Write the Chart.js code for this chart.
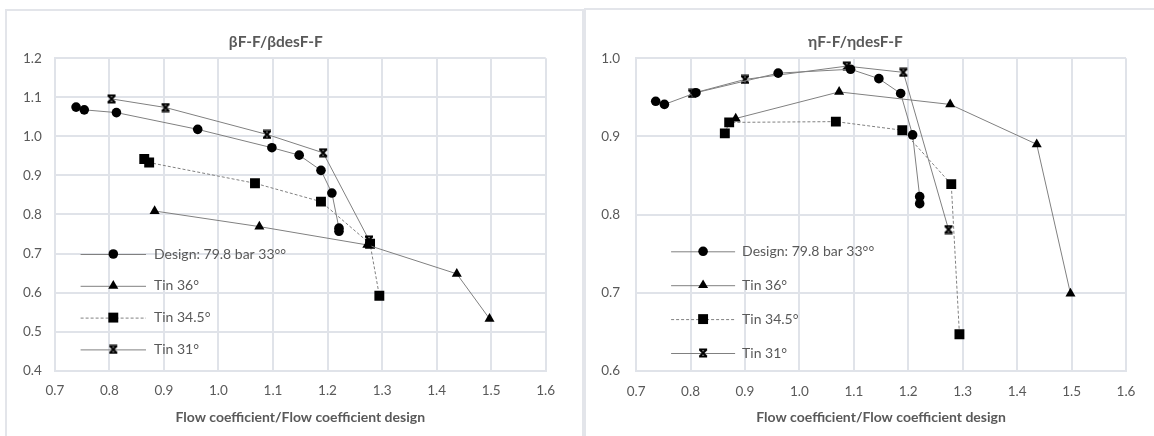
<!DOCTYPE html>
<html>
<head>
<meta charset="utf-8">
<script src="https://cdn.jsdelivr.net/npm/chart.js@4"></script>
<style>
  html, body { margin: 0; padding: 0; background: #fff; overflow: hidden; width: 1154px; height: 436px; }
  .panel { position: absolute; box-sizing: border-box; border: 2px solid #e3e5ea; height: 460px; }
  canvas { position: absolute; top: 0; }
</style>
</head>
<body>
<div class="panel" style="left:5px; top:9px; width:579px;"></div>
<div class="panel" style="left:584px; top:8px; width:620px;"></div>
<canvas id="betaChart" width="576" height="436" style="left:6px"></canvas>
<canvas id="etaChart" width="595" height="436" style="left:585px"></canvas>
<script>
// ---- data ----
const seriesLabels = ["Design: 79.8 bar 33\u00b0\u00b0", "Tin 36\u00b0", "Tin 34.5\u00b0", "Tin 31\u00b0"];

// beta (left chart)
const betaDesignX = [0.739, 0.754, 0.813, 0.962, 1.098, 1.148, 1.188, 1.208, 1.221, 1.221];
const betaDesignY = [1.075, 1.068, 1.061, 1.018, 0.971, 0.952, 0.913, 0.855, 0.765, 0.757];
const beta36X = [0.883, 1.075, 1.273, 1.437, 1.497];
const beta36Y = [0.809, 0.769, 0.722, 0.648, 0.533];
const beta345X = [0.864, 0.873, 1.067, 1.188, 1.278, 1.295];
const beta345Y = [0.942, 0.933, 0.880, 0.833, 0.725, 0.592];
const beta31X = [0.804, 0.903, 1.089, 1.192, 1.276];
const beta31Y = [1.096, 1.074, 1.005, 0.958, 0.735];

// eta (right chart)
const etaDesignX = [0.736, 0.752, 0.810, 0.961, 1.094, 1.146, 1.186, 1.208, 1.221, 1.221];
const etaDesignY = [0.945, 0.941, 0.956, 0.981, 0.986, 0.974, 0.955, 0.902, 0.823, 0.814];
const eta36X = [0.883, 1.073, 1.277, 1.436, 1.498];
const eta36Y = [0.923, 0.957, 0.941, 0.890, 0.699];
const eta345X = [0.863, 0.871, 1.067, 1.189, 1.279, 1.294];
const eta345Y = [0.904, 0.918, 0.919, 0.908, 0.839, 0.647];
const eta31X = [0.803, 0.900, 1.087, 1.191, 1.274];
const eta31Y = [0.955, 0.973, 0.990, 0.982, 0.781];

const TEXT = "#595959";
const GRID = "#e0e3e9";
Chart.defaults.font.family = "Lato, 'Open Sans', sans-serif";
Chart.defaults.color = TEXT;

// Excel-like "star" marker (X with caps)
const starMarker = document.createElement("canvas");
starMarker.width = 10; starMarker.height = 10;
(function () {
  const c = starMarker.getContext("2d");
  c.strokeStyle = "#000"; c.lineWidth = 2;
  c.beginPath();
  c.moveTo(1.5, 1.5); c.lineTo(8.5, 8.5);
  c.moveTo(8.5, 1.5); c.lineTo(1.5, 8.5);
  c.moveTo(1, 1.5); c.lineTo(9, 1.5);
  c.moveTo(1, 8.5); c.lineTo(9, 8.5);
  c.stroke();
})();

const seriesStyles = [
  { pointStyle: "circle", pointRadius: 4.8, borderDash: [] },
  { pointStyle: "triangle", pointRadius: 5.8, borderDash: [] },
  { pointStyle: "rect", pointRadius: 7, borderDash: [3, 2] },
  { pointStyle: starMarker, pointRadius: 5, borderDash: [] }
];

function toPoints(xs, ys) {
  return xs.map((x, i) => ({ x: x, y: ys[i] }));
}

function buildDatasets(groups) {
  return groups.map((g, i) => ({
    label: seriesLabels[i],
    data: toPoints(g[0], g[1]),
    showLine: true,
    borderColor: "#808080",
    borderWidth: 1,
    borderDash: seriesStyles[i].borderDash,
    pointStyle: seriesStyles[i].pointStyle,
    pointRadius: seriesStyles[i].pointRadius,
    pointBackgroundColor: "#000",
    pointBorderColor: "#000",
    pointBorderWidth: 0
  }));
}

function drawMarker(ctx, style, r, x, y) {
  ctx.fillStyle = "#000";
  ctx.beginPath();
  if (style === "circle") {
    ctx.arc(x, y, r, 0, Math.PI * 2);
    ctx.fill();
  } else if (style === "triangle") {
    for (let k = 0; k < 3; k++) {
      const a = k * 2 * Math.PI / 3;
      const px = x + Math.sin(a) * r, py = y - Math.cos(a) * r;
      if (k === 0) ctx.moveTo(px, py); else ctx.lineTo(px, py);
    }
    ctx.closePath();
    ctx.fill();
  } else if (style === "rect") {
    const s = Math.SQRT1_2 * r;
    ctx.fillRect(x - s, y - s, 2 * s, 2 * s);
  } else {
    ctx.drawImage(style, x - style.width / 2, y - style.height / 2);
  }
}

// legend drawn inside the plot area, lower left
const insideLegend = {
  id: "insideLegend",
  afterDatasetsDraw(chart, args, opts) {
    const { ctx, chartArea } = chart;
    ctx.save();
    chart.data.datasets.forEach((ds, i) => {
      const y = chartArea.top + opts.firstRow + i * opts.rowGap;
      const x0 = chartArea.left + opts.lineStart;
      const x1 = x0 + opts.lineLength;
      ctx.strokeStyle = ds.borderColor;
      ctx.lineWidth = 1;
      ctx.setLineDash(ds.borderDash);
      ctx.beginPath();
      ctx.moveTo(x0, y + 0.5);
      ctx.lineTo(x1, y + 0.5);
      ctx.stroke();
      ctx.setLineDash([]);
      drawMarker(ctx, ds.pointStyle, ds.pointRadius, (x0 + x1) / 2, y);
      ctx.fillStyle = TEXT;
      ctx.font = "14px Lato, 'Open Sans', sans-serif";
      ctx.textBaseline = "middle";
      ctx.textAlign = "left";
      ctx.fillText(ds.label, x1 + opts.textGap, y);
    });
    ctx.restore();
  }
};

function makeChart(id, title, groups, yMin, yMax, axisW, axisH, rightPad, tickPad, legendOpts) {
  return new Chart(document.getElementById(id), {
    type: "scatter",
    data: { datasets: buildDatasets(groups) },
    plugins: [insideLegend],
    options: {
      responsive: false,
      animation: false,
      events: [],
      layout: { padding: { left: 0, right: rightPad, top: 0, bottom: 0 } },
      plugins: {
        legend: { display: false },
        tooltip: { enabled: false },
        title: {
          display: true,
          text: title,
          color: TEXT,
          font: { size: 15.5, weight: "bold" },
          padding: { top: 32.4, bottom: 7.3 }
        },
        insideLegend: legendOpts
      },
      scales: {
        x: {
          type: "linear",
          min: 0.7,
          max: 1.6,
          afterFit: (s) => { s.height = axisH; },
          ticks: {
            stepSize: 0.1,
            padding: 12.3,
            font: { size: 13.5 },
            color: TEXT,
            callback: (v) => v.toFixed(1)
          },
          grid: { color: GRID, lineWidth: 2, drawTicks: false },
          border: { color: GRID, width: 2 },
          title: {
            display: true,
            text: "Flow coefficient/Flow coefficient design",
            color: TEXT,
            font: { size: 14, weight: "bold" },
            padding: { top: 4, bottom: 9.9 }
          }
        },
        y: {
          type: "linear",
          min: yMin,
          max: yMax,
          afterFit: (s) => { s.width = axisW; },
          ticks: {
            stepSize: 0.1,
            padding: tickPad,
            font: { size: 13.5 },
            color: TEXT,
            callback: (v) => v.toFixed(1)
          },
          grid: { color: GRID, lineWidth: 2, drawTicks: false },
          border: { color: GRID, width: 2 }
        }
      }
    }
  });
}

makeChart("betaChart", "\u03b2F-F/\u03b2desF-F",
  [[betaDesignX, betaDesignY], [beta36X, beta36Y], [beta345X, beta345Y], [beta31X, beta31Y]],
  0.4, 1.2, 48.8, 65.3, 36.3, 13,
  { firstRow: 195.7, rowGap: 31.8, lineStart: 25.8, lineLength: 65.4, textGap: 8 });

makeChart("etaChart", "\u03b7F-F/\u03b7desF-F",
  [[etaDesignX, etaDesignY], [eta36X, eta36Y], [eta345X, eta345Y], [eta31X, eta31Y]],
  0.6, 1.0, 51.1, 65, 54, 16,
  { firstRow: 193, rowGap: 33.9, lineStart: 35, lineLength: 64, textGap: 7 });
</script>
</body>
</html>
